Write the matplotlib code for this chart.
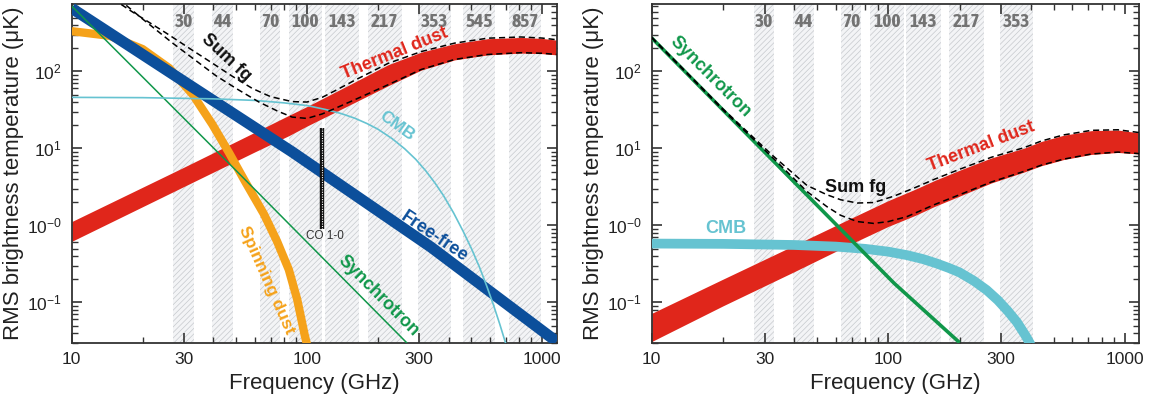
import numpy as np
import matplotlib
matplotlib.use("Agg")
from matplotlib import pyplot as plt
from matplotlib import font_manager
from matplotlib.ticker import FixedLocator, FixedFormatter, NullFormatter, LogLocator

# Planck frequency bands (GHz): label, lower edge, upper edge
band_names = ["30", "44", "70", "100", "143", "217", "353", "545", "857"]
band_lo = [27.0, 39.6, 63.0, 84.0, 119.0, 181.0, 296.0, 460.0, 725.0]
band_hi = [33.0, 48.4, 77.0, 116.0, 167.0, 253.0, 410.0, 630.0, 990.0]

# ---- left panel: total intensity ----
dust_f = [10, 30, 60, 84, 100, 150, 221, 306, 424, 586, 811, 1000, 1150]
dust_hi = [1.12, 5.7, 16.2, 27, 35, 66, 122, 178, 229, 266, 276, 268, 255]
dust_lo = [0.62, 3.2, 9.0, 14.7, 19.5, 36, 65, 104, 141, 164, 173, 170, 164]

ff_f = [10, 38.5, 86.5, 337, 1150]
ff_t = [660, 45, 9.0, 0.52, 0.031]

sd_f = [10, 14.5, 20, 26, 32.7, 39.6, 46.7, 54.6, 65.6, 74.6, 83.7, 90.8, 97.7, 101]
sd_t = [333, 290, 195, 110, 50, 20.5, 8.7, 3.7, 1.4, 0.62, 0.266, 0.11, 0.038, 0.025]

sync_f = [10, 51.4, 102, 265]
sync_t = [706, 4.72, 0.57, 0.03]

cmb_f = [10, 20, 40, 60, 80, 100, 120, 140, 160, 180, 200, 230, 260, 290, 320, 350, 380,
         420, 460, 500, 540, 580, 620, 660, 700]
cmb_t = [46, 45.6, 44, 42, 39, 36, 32, 28.3, 24.6, 21, 17.8, 13.4, 9.9, 7.2, 5.1, 3.55, 2.45,
         1.45, 0.85, 0.5, 0.29, 0.165, 0.093, 0.052, 0.029]

sum_hi_f = [14, 18, 25.2, 32, 39.6, 48, 58.6, 70, 86.5, 100, 116, 130, 160, 221, 306, 424, 586, 811, 1000, 1150]
sum_hi_t = [1000, 600, 315, 195, 128, 87, 60, 47, 40.5, 40, 46, 55, 77, 127, 181, 233, 270, 280, 271, 258]
sum_lo_f = [15, 20, 26.8, 33, 41, 50, 62.5, 75, 86.5, 100, 116, 130, 160, 221, 306, 424, 586, 811, 1000, 1150]
sum_lo_t = [1000, 480, 234, 145, 88, 60, 40, 30.5, 25.5, 24.5, 28, 32.5, 43, 67, 106, 143, 166, 175, 172, 166]

co_f = [115.27, 115.27]
co_t = [0.90, 18.6]

# ---- right panel: polarization ----
pdust_f = [10, 20, 40, 70, 100, 130, 156, 200, 272, 376, 443, 550, 721, 934, 1150]
pdust_hi = [0.072, 0.20, 0.55, 1.25, 2.1, 2.95, 3.8, 5.2, 7.5, 10.1, 12.3, 14.8, 17.0, 17.3, 15.9]
pdust_lo = [0.031, 0.09, 0.25, 0.58, 0.97, 1.35, 1.75, 2.4, 3.55, 4.95, 5.95, 7.15, 8.35, 8.85, 8.45]

psync_f = [10, 106, 200]
psync_t = [272, 0.176, 0.03]

pcmb_f = [10, 20, 40, 60, 80, 100, 120, 140, 160, 180, 200, 230, 260, 290, 320, 350, 380, 400]
pcmb_t = [0.58, 0.575, 0.556, 0.53, 0.495, 0.455, 0.41, 0.365, 0.32, 0.28, 0.245, 0.19, 0.145,
          0.107, 0.077, 0.055, 0.037, 0.028]

psum_hi_f = [10, 20, 32.7, 45.3, 55, 62.9, 73.9, 86.8, 105.7, 130, 156, 200, 272, 376, 443, 550, 721, 934, 1150]
psum_hi_t = [278, 32.5, 7.9, 3.3, 2.5, 2.15, 1.95, 1.98, 2.4, 3.1, 3.95, 5.35, 7.65, 10.25, 12.45, 14.95, 17.15, 17.45, 16.05]
psum_lo_f = [10, 20, 32.7, 45.3, 55, 62.9, 73.9, 86.8, 100, 120, 156, 200, 272, 376, 443, 550, 721, 934, 1150]
psum_lo_t = [272, 31.5, 7.4, 2.75, 1.75, 1.35, 1.12, 1.06, 1.12, 1.3, 1.85, 2.5, 3.65, 5.05, 6.05, 7.25, 8.45, 8.95, 8.55]

RED = "#e0261b"
BLUE = "#0c4f9b"
ORANGE = "#f5a21a"
GREEN = "#10974a"
CYAN = "#66c3d1"
GREY = "#737373"

plt.rcParams["font.family"] = ["Liberation Sans", "DejaVu Sans"]
plt.rcParams["mathtext.fontset"] = "custom"
plt.rcParams["mathtext.rm"] = "Liberation Sans"
plt.rcParams["mathtext.it"] = "Liberation Sans:italic"
plt.rcParams["hatch.linewidth"] = 0.5


# 频段标签用加粗窄体字（如果有的话）
def pick_band_font():
    fonts = font_manager.fontManager.ttflist
    bold_w = ("bold", 700, "semibold", 600, "demibold")
    named = [f for f in fonts if ("Narrow" in f.name or "Condensed" in f.name) and f.weight in bold_w]
    for f in named:
        if f.name.startswith("Liberation"):
            return dict(family=f.name, fontsize=14, fontweight="bold")
    if named:
        return dict(family=named[0].name, fontsize=14, fontweight="bold")
    stretched = [f for f in fonts if f.stretch in ("condensed", "semi-condensed") and f.weight in bold_w]
    if stretched:
        return dict(family=stretched[0].name, fontsize=13.5, fontweight="bold",
                    fontstretch=stretched[0].stretch)
    return dict(family="Liberation Sans", fontsize=13, fontweight="bold")


band_font = pick_band_font()


def setup_axes(ax, n_bands):
    ax.set_xscale("log")
    ax.set_yscale("log")
    ax.set_xlim(10, 1150)
    ax.set_ylim(0.03, 750)
    # hatched frequency bands
    for i in range(n_bands):
        ax.axvspan(band_lo[i], band_hi[i], facecolor="#f3f4f6", edgecolor="#c6c9cd",
                   hatch="//////", linewidth=0, zorder=0)
        ax.text(np.sqrt(band_lo[i] * band_hi[i]), 0.947, band_names[i],
                transform=ax.get_xaxis_transform(), ha="center", va="center",
                color=GREY, **band_font)
    ax.xaxis.set_major_locator(FixedLocator([10, 30, 100, 300, 1000]))
    ax.xaxis.set_major_formatter(FixedFormatter(["10", "30", "100", "300", "1000"]))
    ax.xaxis.set_minor_locator(FixedLocator([20, 40, 50, 60, 70, 80, 90, 200, 400, 500, 600, 700, 800, 900]))
    ax.xaxis.set_minor_formatter(NullFormatter())
    ax.yaxis.set_major_locator(FixedLocator([0.1, 1, 10, 100]))
    ax.yaxis.set_major_formatter(FixedFormatter(["10$^{-1}$", "10$^{-0}$", "10$^{1}$", "10$^{2}$"]))
    ax.yaxis.set_minor_locator(LogLocator(base=10, subs=np.arange(2, 10), numticks=20))
    ax.yaxis.set_minor_formatter(NullFormatter())
    ax.tick_params(which="both", direction="in", top=True, right=True, color="#333333",
                   labelsize=12.5, labelcolor="#222222")
    ax.tick_params(which="major", length=7, width=1.2, pad=7)
    ax.tick_params(which="minor", length=4, width=1.0)
    for s in ax.spines.values():
        s.set_linewidth(1.3)
        s.set_color("#333333")
    ax.set_xlabel("Frequency (GHz)", fontsize=16, color="#222222", labelpad=4)
    ax.set_ylabel("RMS brightness temperature (\u03bcK)", fontsize=16, color="#222222", labelpad=2)


def label(ax, x, y, s, color, rot=0, size=13, weight="bold", **kw):
    ax.text(x, y, s, rotation=rot, ha="center", va="center", fontsize=size,
            fontweight=weight, color=color, zorder=8, **kw)


fig = plt.figure(figsize=(11.57, 4.04), dpi=100)
ax1 = fig.add_axes([0.062, 0.152, 0.419, 0.838])
ax2 = fig.add_axes([0.5633, 0.152, 0.4214, 0.838])

# 左图：总强度
setup_axes(ax1, 9)
ax1.fill_between(dust_f, dust_lo, dust_hi, color=RED, linewidth=0, zorder=2)
ax1.plot(sd_f, sd_t, color=ORANGE, lw=6, solid_capstyle="butt", zorder=3)
ax1.plot(ff_f, ff_t, color=BLUE, lw=8, solid_capstyle="butt", zorder=4)
ax1.plot(sync_f, sync_t, color=GREEN, lw=1.1, zorder=5)
ax1.plot(cmb_f, cmb_t, color=CYAN, lw=1.2, zorder=6)
ax1.plot(co_f, co_t, color="#111111", lw=3.2, solid_capstyle="butt", zorder=6)
ax1.plot(co_f, co_t, color="white", lw=0.8, ls=(0, (1, 1.2)), zorder=6.5)
ax1.plot(sum_hi_f, sum_hi_t, color="black", lw=1.1, ls=(0, (4, 2.5)), zorder=7)
ax1.plot(sum_lo_f, sum_lo_t, color="black", lw=1.1, ls=(0, (4, 2.5)), zorder=7)

label(ax1, 45.2, 152, "Sum fg", "#111111", rot=-43)
ax1.text(240, 150, "Thermal dust", rotation=22, rotation_mode="anchor", ha="center",
         va="baseline", fontsize=13, fontweight="bold", color=RED, zorder=8)
label(ax1, 241, 19.3, "CMB", CYAN, rot=-36, size=12.5)
label(ax1, 349, 0.72, "Free-free", BLUE, rot=-34)
label(ax1, 201, 0.12, "Synchrotron", GREEN, rot=-45)
label(ax1, 67.6, 0.197, "Spinning dust", ORANGE, rot=-66, size=12.5)
label(ax1, 119, 0.72, "CO 1-0", "#333333", size=8.5, weight="normal")

# 右图：偏振
setup_axes(ax2, 7)
ax2.fill_between(pdust_f, pdust_lo, pdust_hi, color=RED, linewidth=0, zorder=2)
ax2.plot(pcmb_f, pcmb_t, color=CYAN, lw=7, solid_capstyle="butt", zorder=3)
ax2.plot(psync_f, psync_t, color=GREEN, lw=2.6, solid_capstyle="butt", zorder=4)
ax2.plot(psum_hi_f, psum_hi_t, color="black", lw=1.1, ls=(0, (4, 2.5)), zorder=5)
ax2.plot(psum_lo_f, psum_lo_t, color="black", lw=1.1, ls=(0, (4, 2.5)), zorder=5)

label(ax2, 17.7, 86, "Synchrotron", GREEN, rot=-45)
label(ax2, 72.6, 3.06, "Sum fg", "#111111")
label(ax2, 20.5, 0.90, "CMB", CYAN)
ax2.text(251, 9.4, "Thermal dust", rotation=21, rotation_mode="anchor", ha="center",
         va="baseline", fontsize=13, fontweight="bold", color=RED, zorder=8)

fig.savefig("out.png", dpi=100)
